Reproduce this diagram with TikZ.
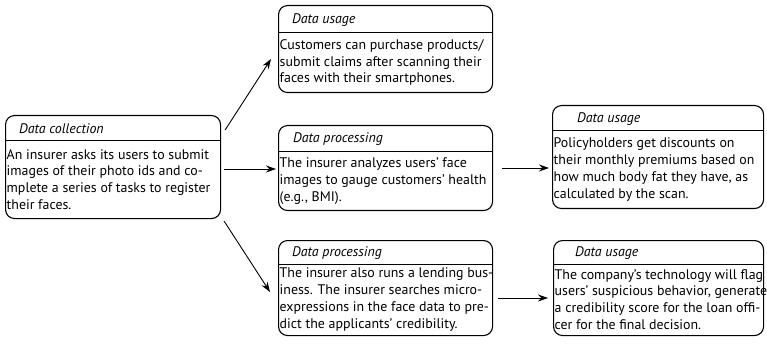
\documentclass[tikz,border=0pt]{standalone}
\usepackage{fontspec}
\setmainfont{PT Sans}
\usetikzlibrary{calc,arrows.meta}
\tikzset{
  dbox/.style={draw, line width=1.1pt, rounded corners=9pt, inner sep=0pt, anchor=north west},
  divider/.style={line width=1pt},
  head/.style={anchor=west, inner sep=0pt, font=\fontsize{13.9}{16}\selectfont\itshape},
  body/.style={anchor=west, inner sep=0pt, align=left, font=\fontsize{13.9}{16.9}\selectfont},
  arr/.style={line width=0.9pt, -{Stealth[length=10pt,width=7pt]}}
}
% name, x, y, w, h, header height, header indent, header, body
\newcommand\dbox[9]{%
  \node[dbox, minimum width=#4pt, minimum height=#5pt] (#1) at (#2,#3) {};
  \draw[divider] ($(#1.north west)+(0,#6)$) -- ($(#1.north east)+(0,#6)$);
  \node[head] (#1h) at ($(#1.north west)+(#7,#6/2+1)$) {#8};
  \node[body] (#1b) at ($(#1.north west)+(1.5,#6/2+#5/2)$) {#9};
}
\begin{document}
\begin{tikzpicture}[x=1pt,y=-1pt]
\useasboundingbox (0,0) rectangle (767,347);
\dbox{col}{5}{115}{215}{103}{26}{14}{Data collection}{An insurer asks its users to submit\\images of their photo ids and co-\\mplete a series of tasks to register\\their faces.}
\dbox{use1}{278}{5}{214}{87}{28}{14}{Data usage}{Customers can purchase products/\\submit claims after scanning their\\faces with their smartphones.}
\dbox{proc1}{278}{125}{214}{85}{27}{15}{Data processing}{The insurer analyzes users’ face\\images to gauge customers’ health\\(e.g., BMI).}
\dbox{use2}{552}{105}{211}{103}{26}{25}{Data usage}{Policyholders get discounts on\\their monthly premiums based on\\how much body fat they have, as\\calculated by the scan.}
\dbox{proc2}{278}{240}{214}{95}{24}{14}{Data processing}{The insurer also runs a lending bus-\\iness. The insurer searches micro-\\expressions in the face data to pre-\\dict the applicants’ credibility.}
\dbox{use3}{553}{240}{210}{95}{24}{22}{Data usage}{The company’s technology will flag\\users’ suspicious behavior, generate\\a credibility score for the loan offi-\\cer for the final decision.}
\coordinate (a1s) at ($(col.north east)+(4,15)$);
\coordinate (a1e) at ($(use1.north west)+(-7,54)$);
\coordinate (a2s) at ($(col.north east)+(3,54)$);
\coordinate (a2e) at ($(proc1.north west)+(-2,44)$);
\coordinate (a3s) at ($(col.south east)+(3,2)$);
\coordinate (a3e) at ($(proc2.north west)+(-8,52)$);
\coordinate (a4s) at ($(proc1.north east)+(9,43)$);
\coordinate (a4e) at ($(use2.north west)+(-3,63)$);
\coordinate (a5s) at ($(proc2.north east)+(5,58)$);
\coordinate (a5e) at ($(use3.north west)+(-5,58)$);
\draw[arr] (a1s) -- (a1e);
\draw[arr] (a2s) -- (a2e);
\draw[arr] (a3s) -- (a3e);
\draw[arr] (a4s) -- (a4e);
\draw[arr] (a5s) -- (a5e);
\end{tikzpicture}
\end{document}
